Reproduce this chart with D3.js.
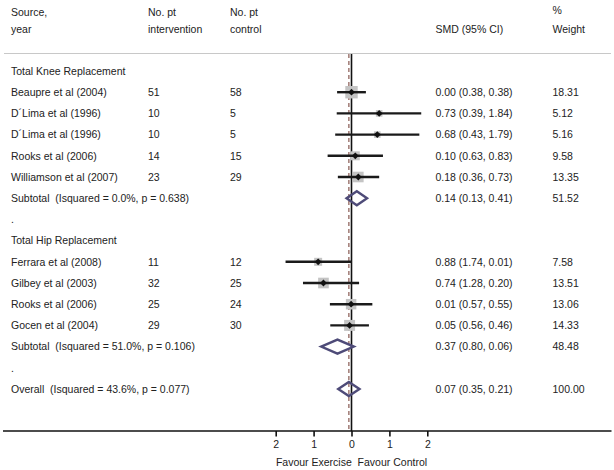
<!DOCTYPE html>
<html>
<head>
<meta charset="utf-8">
<script src="https://cdn.jsdelivr.net/npm/d3@7"></script>
<style>
  html, body { margin: 0; padding: 0; background: #fff; }
  svg { display: block; }
  text { font-family: "Liberation Sans", Arial, Helvetica, sans-serif; font-size: 10.5px; fill: #222; white-space: pre; }
</style>
</head>
<body>
<svg id="chart" width="614" height="470"></svg>
<script>
// ---- data ----
const sources = [
  "Total Knee Replacement",
  "Beaupre et al (2004)",
  "D\u00B4Lima et al (1996)",
  "D\u00B4Lima et al (1996)",
  "Rooks et al (2006)",
  "Williamson et al (2007)",
  "Subtotal  (Isquared = 0.0%, p = 0.638)",
  ".",
  "Total Hip Replacement",
  "Ferrara et al (2008)",
  "Gilbey et al (2003)",
  "Rooks et al (2006)",
  "Gocen et al (2004)",
  "Subtotal  (Isquared = 51.0%, p = 0.106)",
  ".",
  "Overall  (Isquared = 43.6%, p = 0.077)"
];
const rowKinds = ["group","study","study","study","study","study","subtotal","blank",
                  "group","study","study","study","study","subtotal","blank","overall"];
const nIntervention = ["", "51", "10", "10", "14", "23", "", "", "", "11", "32", "25", "29", "", "", ""];
const nControl      = ["", "58", "5", "5", "15", "29", "", "", "", "12", "25", "24", "30", "", "", ""];
const smd    = [null, 0.00, 0.73, 0.68, 0.10, 0.18, 0.14, null, null, -0.88, -0.74, -0.01, -0.05, -0.37, null, -0.07];
const ciLow  = [null, -0.38, -0.39, -0.43, -0.63, -0.36, -0.13, null, null, -1.74, -1.28, -0.57, -0.56, -0.80, null, -0.35];
const ciHigh = [null, 0.38, 1.84, 1.79, 0.83, 0.73, 0.41, null, null, 0.01, 0.20, 0.55, 0.46, 0.06, null, 0.21];
const ciText = ["", "0.00 (0.38, 0.38)", "0.73 (0.39, 1.84)", "0.68 (0.43, 1.79)", "0.10 (0.63, 0.83)",
                "0.18 (0.36, 0.73)", "0.14 (0.13, 0.41)", "", "", "0.88 (1.74, 0.01)", "0.74 (1.28, 0.20)",
                "0.01 (0.57, 0.55)", "0.05 (0.56, 0.46)", "0.37 (0.80, 0.06)", "", "0.07 (0.35, 0.21)"];
const weights = [null, 18.31, 5.12, 5.16, 9.58, 13.35, 51.52, null, null, 7.58, 13.51, 13.06, 14.33, 48.48, null, 100.00];
const tickValues = [-2, -1, 0, 1, 2];
const tickLabels = ["2", "1", "0", "1", "2"];
const axisTitle = "Favour Exercise  Favour Control";
const overallSmd = -0.07;

// ---- layout ----
const svg = d3.select("#chart");
const x = d3.scaleLinear().domain([-2, 2]).range([275.7, 427.3]);
const y = d3.scaleLinear().domain([0, 15]).range([71, 389]);
const colSource = 11, colInt = 148, colCtrl = 230, colCI = 435.5, colW = 552.5;
const axisY = 431, topY = 54;
const sqK = 2.9;

// header
const hdr = svg.append("g");
[[colSource, 12, "Source,"], [colSource, 29.5, "year"],
 [colInt, 12, "No. pt"], [colInt, 29.5, "intervention"],
 [colCtrl, 12, "No. pt"], [colCtrl, 29.5, "control"],
 [colCI, 29.5, "SMD (95% CI)"],
 [colW, 10, "%"], [colW, 29.5, "Weight"]].forEach(([tx, ty, t]) => {
  hdr.append("text").attr("x", tx).attr("y", ty).attr("dy", "0.36em").text(t);
});

svg.append("line").attr("x1", 4).attr("x2", 611).attr("y1", 53.5).attr("y2", 53.5)
  .attr("stroke", "#c8c8c8").attr("stroke-width", 1.2);

// reference lines
svg.append("line").attr("x1", x(0)).attr("x2", x(0)).attr("y1", topY).attr("y2", axisY)
  .attr("stroke", "#111").attr("stroke-width", 1.6);
svg.append("line").attr("x1", x(overallSmd)).attr("x2", x(overallSmd)).attr("y1", topY).attr("y2", axisY)
  .attr("stroke", "#a07a74").attr("stroke-width", 1.5).attr("stroke-dasharray", "4,3");

// rows text
const rows = d3.range(sources.length);
const g = svg.append("g");
rows.forEach(i => {
  const yy = y(i);
  g.append("text").attr("x", colSource).attr("y", yy).attr("dy", "0.36em").attr("xml:space", "preserve").text(sources[i]);
  if (nIntervention[i]) g.append("text").attr("x", colInt).attr("y", yy).attr("dy", "0.36em").text(nIntervention[i]);
  if (nControl[i]) g.append("text").attr("x", colCtrl).attr("y", yy).attr("dy", "0.36em").text(nControl[i]);
  if (ciText[i]) g.append("text").attr("x", colCI).attr("y", yy).attr("dy", "0.36em").text(ciText[i]);
  if (weights[i] != null) g.append("text").attr("x", colW).attr("y", yy).attr("dy", "0.36em").text(weights[i].toFixed(2));
});

// study markers
const studies = rows.filter(i => rowKinds[i] === "study");
const mk = svg.append("g");
studies.forEach(i => {
  const s = sqK * Math.sqrt(weights[i]);
  mk.append("rect").attr("x", x(smd[i]) - s / 2).attr("y", y(i) - s / 2)
    .attr("width", s).attr("height", s).attr("fill", "#c4c4c4");
});
studies.forEach(i => {
  mk.append("line").attr("x1", x(ciLow[i])).attr("x2", x(ciHigh[i]))
    .attr("y1", y(i)).attr("y2", y(i)).attr("stroke", "#1a1a1a").attr("stroke-width", 2.4);
  const cx = x(smd[i]), cy = y(i), d = 3.4;
  mk.append("path").attr("d", `M${cx - d},${cy}L${cx},${cy - d}L${cx + d},${cy}L${cx},${cy + d}Z`)
    .attr("fill", "#111");
});

// diamonds
rows.filter(i => rowKinds[i] === "subtotal" || rowKinds[i] === "overall").forEach(i => {
  const cy = y(i), h = 7;
  svg.append("path")
    .attr("d", `M${x(ciLow[i])},${cy}L${x(smd[i])},${cy - h}L${x(ciHigh[i])},${cy}L${x(smd[i])},${cy + h}Z`)
    .attr("fill", "none").attr("stroke", "#4e4b78").attr("stroke-width", 2.4).attr("stroke-linejoin", "miter");
});

// axis
svg.append("line").attr("x1", 3).attr("x2", 611.5).attr("y1", axisY).attr("y2", axisY)
  .attr("stroke", "#111").attr("stroke-width", 1.6);
const axis = d3.axisBottom(x).tickValues(tickValues).tickSize(5.5).tickPadding(4.5)
  .tickFormat((d, k) => tickLabels[k]);
const ag = svg.append("g").attr("transform", `translate(0,${axisY})`).call(axis);
ag.select(".domain").remove();
ag.selectAll(".tick line").attr("stroke", "#111").attr("stroke-width", 1.6);
ag.selectAll(".tick text").style("font-family", "'Liberation Sans', Arial, sans-serif")
  .style("font-size", "10.5px").attr("fill", "#222");
svg.append("text").attr("x", x(0)).attr("y", 462).attr("dy", "0.36em")
  .attr("text-anchor", "middle").attr("xml:space", "preserve").text(axisTitle);
</script>
</body>
</html>
